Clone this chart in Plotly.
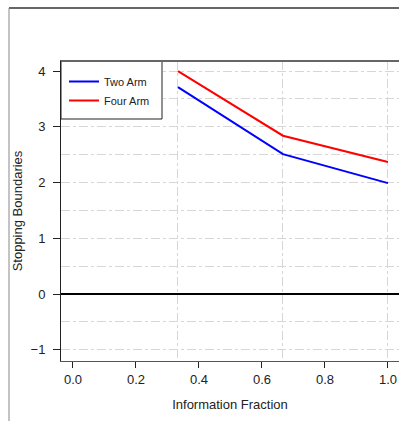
import plotly.graph_objects as go

info_fraction = [1/3, 2/3, 1.0]
two_arm = [3.71, 2.51, 1.99]
four_arm = [4.00, 2.84, 2.37]
x_ticks = [0.0, 0.2, 0.4, 0.6, 0.8, 1.0]
x_tick_text = ["0.0", "0.2", "0.4", "0.6", "0.8", "1.0"]
y_ticks = [-1, 0, 1, 2, 3, 4]

W, H = 399, 421
L, R, T, B = 61, 0, 61, 60

fig = go.Figure()
fig.add_trace(go.Scatter(x=info_fraction, y=two_arm, mode="lines", name="Two Arm",
                         line=dict(color="#0000ff", width=2)))
fig.add_trace(go.Scatter(x=info_fraction, y=four_arm, mode="lines", name="Four Arm",
                         line=dict(color="#ff0000", width=2)))

pw, ph = W - L - R, H - T - B

font = "Liberation Sans, Arial, sans-serif"
fig.update_layout(
    width=W, height=H,
    margin=dict(l=L, r=R, t=T, b=B),
    paper_bgcolor="white", plot_bgcolor="white",
    font=dict(family=font, size=13, color="#222"),
    showlegend=True,
    legend=dict(x=3 / pw, y=1 - 6 / ph, xanchor="left", yanchor="top",
                bgcolor="rgba(0,0,0,0)", borderwidth=0,
                font=dict(size=11, color="#222"), tracegroupgap=0),
)
fig.update_xaxes(
    range=[-0.038, 1.035], tickvals=x_ticks, ticktext=x_tick_text,
    showgrid=False, zeroline=False,
    showline=True, linecolor="#555", linewidth=1, mirror=True,
    ticks="outside", ticklen=6, tickcolor="#222",
    minor=dict(tickvals=info_fraction, showgrid=True, gridcolor="#d6d6d6",
               griddash="dashdot", gridwidth=1, ticklen=0),
    title=dict(text="Information Fraction", standoff=14, font=dict(size=13)),
)
fig.update_yaxes(
    range=[-1.2, 4.18], tickvals=y_ticks,
    showgrid=True, gridcolor="#d6d6d6", griddash="dashdot", gridwidth=1,
    zeroline=True, zerolinecolor="black", zerolinewidth=2,
    showline=True, linecolor="#222", linewidth=1, mirror=False,
    ticks="outside", ticklen=7, tickcolor="#222", ticklabelstandoff=5,
    minor=dict(dtick=0.5, tick0=0, showgrid=True, gridcolor="#d6d6d6",
               griddash="dashdot", gridwidth=1, ticklen=0),
    title=dict(text="Stopping Boundaries", standoff=5, font=dict(size=13)),
)

# outer window frame
fx = (9 - L) / pw
fy = (H - B - 8) / ph
fig.add_shape(type="line", xref="paper", yref="paper", x0=fx, x1=1.0, y0=fy, y1=fy,
              line=dict(color="#666", width=2))
fig.add_shape(type="line", xref="paper", yref="paper", x0=fx, x1=fx, y0=fy, y1=(H - B - 421) / ph,
              line=dict(color="#888", width=1))
# legend box
fig.add_shape(type="rect", xref="paper", yref="paper", layer="above",
              x0=0, x1=(162 - L) / pw, y0=1, y1=(H - B - 119) / ph,
              fillcolor="white", line=dict(color="#222", width=1))
# top border of plot panel
fig.add_shape(type="line", xref="paper", yref="paper", x0=0, x1=1, y0=1, y1=1,
              line=dict(color="#666", width=2))

fig.write_html("out.html", config={"displayModeBar": False},
               post_script="document.body.style.margin='0';")
